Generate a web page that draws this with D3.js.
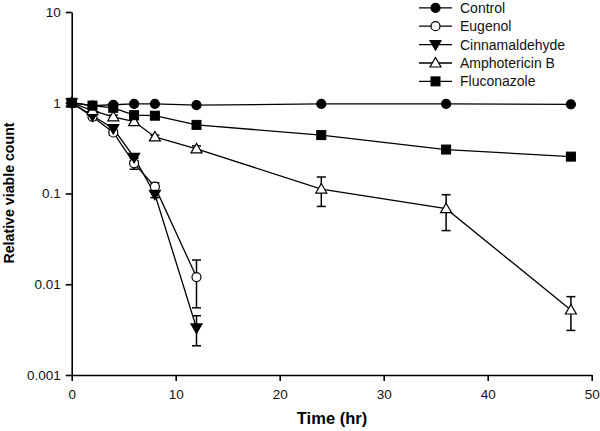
<!DOCTYPE html>
<html><head><meta charset="utf-8">
<script src="https://cdn.jsdelivr.net/npm/d3@7"></script>
<style>body{margin:0;background:#fff;} text{font-family:"Liberation Sans",Arial,sans-serif;}</style>
</head><body><svg id="c" width="600" height="431"></svg>
<script>
const times = [0, 2, 4, 6, 8, 12, 24, 36, 48];
const timesShort = [0, 2, 4, 6, 8, 12];
const seriesNames = ["Control", "Eugenol", "Cinnamaldehyde", "Amphotericin B", "Fluconazole"];
const controlVals = [1, 0.93, 0.95, 0.97, 0.97, 0.94, 0.97, 0.97, 0.96];
const eugenolVals = [1, 0.70, 0.47, 0.215, 0.119, 0.012];
const eugenolErr = [0, 0.02, 0.03, 0.03, 0.012, 0.0065];
const cinnVals = [1, 0.72, 0.52, 0.25, 0.098, 0.0033];
const cinnErr = [0, 0.02, 0.03, 0.02, 0.008, 0.0012];
const amphoVals = [1, 0.82, 0.70, 0.62, 0.42, 0.31, 0.112, 0.068, 0.0052];
const amphoErr = [0, 0.02, 0.03, 0.03, 0.02, 0.025, 0.04, 0.029, 0.0021];
const flucoVals = [1, 0.93, 0.88, 0.73, 0.72, 0.57, 0.44, 0.305, 0.255];
const flucoErr = [0, 0.02, 0.03, 0.03, 0.03, 0.03, 0.04, 0.02, 0.012];
const xTicks = [0, 10, 20, 30, 40, 50];
const yTicks = [0.001, 0.01, 0.1, 1, 10];
const yTickLabels = ["0.001", "0.01", "0.1", "1", "10"];

const svg = d3.select("#c");
const x = d3.scaleLinear().domain([0, 50]).range([71.7, 591.7]);
const y = d3.scaleLog().domain([0.001, 10]).range([375, 12]);

// axes
const xAxis = d3.axisBottom(x).tickValues(xTicks).tickSize(6).tickSizeOuter(0).tickPadding(5);
const yAxis = d3.axisLeft(y).tickValues(yTicks).tickSize(6).tickSizeOuter(0).tickPadding(5)
  .tickFormat((d, i) => yTickLabels[i]);
const gx = svg.append("g").attr("transform", "translate(0,375)").call(xAxis);
const gy = svg.append("g").attr("transform", "translate(71.7,0)").call(yAxis);
[gx, gy].forEach(g => {
  g.selectAll("path,line").attr("stroke", "#000").attr("stroke-width", 1.6);
  g.selectAll("text").attr("font-size", 13.5).attr("fill", "#111").attr("font-family", "Liberation Sans, Arial, sans-serif");
});
gx.selectAll("text").attr("dy", "0.95em");

svg.append("text").attr("x", 332).attr("y", 424).attr("text-anchor", "middle")
  .attr("font-size", 16.5).attr("font-weight", "bold").text("Time (hr)");
svg.append("text").attr("transform", "translate(14,193) rotate(-90)").attr("text-anchor", "middle")
  .attr("font-size", 14.2).attr("font-weight", "bold").text("Relative viable count");

const series = [
  {name: seriesNames[0], t: times, v: controlVals, e: null, sym: "circle", fill: "#000"},
  {name: seriesNames[1], t: timesShort, v: eugenolVals, e: eugenolErr, sym: "circle", fill: "#fff"},
  {name: seriesNames[2], t: timesShort, v: cinnVals, e: cinnErr, sym: "tri-down", fill: "#000"},
  {name: seriesNames[3], t: times, v: amphoVals, e: amphoErr, sym: "tri-up", fill: "#fff"},
  {name: seriesNames[4], t: times, v: flucoVals, e: flucoErr, sym: "square", fill: "#000"}
];

function drawMarker(g, sym, fill, cx, cy) {
  if (sym === "circle") {
    g.append("circle").attr("cx", cx).attr("cy", cy).attr("r", 4.5)
      .attr("fill", fill).attr("stroke", "#000").attr("stroke-width", 1.2);
  } else if (sym === "square") {
    g.append("rect").attr("x", cx - 4.5).attr("y", cy - 4.5).attr("width", 9).attr("height", 9)
      .attr("fill", fill).attr("stroke", "#000").attr("stroke-width", 1);
  } else if (sym === "tri-up") {
    g.append("path").attr("d", `M${cx},${cy-5.5}L${cx+5.5},${cy+4}L${cx-5.5},${cy+4}Z`)
      .attr("fill", fill).attr("stroke", "#000").attr("stroke-width", 1.2);
  } else {
    g.append("path").attr("d", `M${cx},${cy+5.5}L${cx+5.5},${cy-4}L${cx-5.5},${cy-4}Z`)
      .attr("fill", fill).attr("stroke", "#000").attr("stroke-width", 1.2);
  }
}

const line = d3.line().x(d => x(d[0])).y(d => y(d[1]));
const plot = svg.append("g");
series.forEach(s => {
  const pts = s.t.map((t, i) => [t, s.v[i]]);
  plot.append("path").attr("d", line(pts)).attr("fill", "none").attr("stroke", "#000").attr("stroke-width", 1.3);
});
series.forEach(s => {
  if (!s.e) return;
  s.t.forEach((t, i) => {
    const e = s.e[i];
    if (!e) return;
    const cx = x(t), y1 = y(s.v[i] + e), y2 = y(Math.max(s.v[i] - e, 1e-4));
    plot.append("line").attr("x1", cx).attr("x2", cx).attr("y1", y1).attr("y2", y2).attr("stroke", "#000").attr("stroke-width", 1.5);
    [y1, y2].forEach(yy => plot.append("line").attr("x1", cx - 4.5).attr("x2", cx + 4.5).attr("y1", yy).attr("y2", yy)
      .attr("stroke", "#000").attr("stroke-width", 1.5));
  });
});
series.forEach(s => {
  s.t.forEach((t, i) => drawMarker(plot, s.sym, s.fill, x(t), y(s.v[i])));
});

const leg = svg.append("g");
series.forEach((s, i) => {
  const yy = 7.8 + i * 18.4;
  leg.append("line").attr("x1", 419).attr("x2", 452).attr("y1", yy).attr("y2", yy).attr("stroke", "#000").attr("stroke-width", 1.3);
  drawMarker(leg, s.sym, s.fill, 435.5, yy);
  leg.append("text").attr("x", 460).attr("y", yy).attr("dy", "0.35em").attr("font-size", 14).attr("fill", "#111").text(s.name);
});
</script></body></html>
